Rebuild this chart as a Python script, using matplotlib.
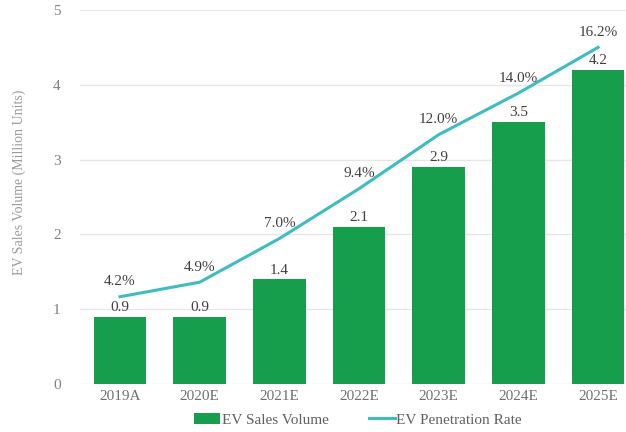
import numpy as np
import matplotlib
matplotlib.use('Agg')
import matplotlib.pyplot as plt

# Years and values
years = ['2019A', '2020E', '2021E', '2022E', '2023E', '2024E', '2025E']
sales = [0.9, 0.9, 1.4, 2.1, 2.9, 3.5, 4.2]           # million units
penetration = [4.2, 4.9, 7.0, 9.4, 12.0, 14.0, 16.2]  # percent

bar_color = '#169e4c'
line_color = '#3dbdbf'

plt.rcParams['font.family'] = ['Liberation Serif', 'DejaVu Serif']

fig = plt.figure(figsize=(6.26, 4.32), dpi=100, facecolor='w')
ax = fig.add_axes([0.128, 0.111, 0.872, 0.866])
x = np.arange(len(years))

bars = ax.bar(x, sales, width=0.66, color=bar_color, label='EV Sales Volume', zorder=2)
for xi, v in zip(x, sales):
    ax.annotate(f'{v:.1f}', (xi, v), xytext=(0, 2), textcoords='offset points',
                ha='center', va='bottom', fontsize=11, color='#404040')

ax.set_ylim(0, 5)
ax.set_xlim(-0.5, 6.35)
ax.set_xticks(x)
ax.set_xticklabels(years, fontsize=11, color='#707070')
ax.set_yticks(range(6))
ax.tick_params(axis='y', labelsize=11, labelcolor='#808080', length=0, pad=14)
ax.tick_params(axis='x', length=0, pad=4)
ax.grid(axis='y', color='#e6e6e6', lw=1, zorder=0)
ax.set_axisbelow(True)
for spine in ('top', 'right', 'bottom', 'left'):
    ax.spines[spine].set_visible(False)
ax.set_ylabel('EV Sales Volume (Million Units)', fontsize=10, color='#9a9a9a')
ax.yaxis.set_label_coords(-0.10, 0.54)

# Penetration rate on a hidden secondary scale
ax2 = ax.twinx()
ax2.set_ylim(0, 18)
line, = ax2.plot(x, penetration, color=line_color, lw=2.2, label='EV Penetration Rate', zorder=3)
for xi, p in zip(x, penetration):
    ax2.annotate(f'{p:.1f}%', (xi, p), xytext=(0, 6), textcoords='offset points',
                 ha='center', va='bottom', fontsize=11, color='#404040')
ax2.set_yticks([])
for spine in ('top', 'right', 'bottom', 'left'):
    ax2.spines[spine].set_visible(False)

leg = fig.legend([bars, line], ['EV Sales Volume', 'EV Penetration Rate'],
                 loc='center', bbox_to_anchor=(0.572, 0.028), ncol=2, frameon=False,
                 fontsize=11, handlelength=1.7, handletextpad=0.1, columnspacing=2.6)
for t in leg.get_texts():
    t.set_color('#606060')

fig.savefig('out.png', dpi=100, facecolor='w')
